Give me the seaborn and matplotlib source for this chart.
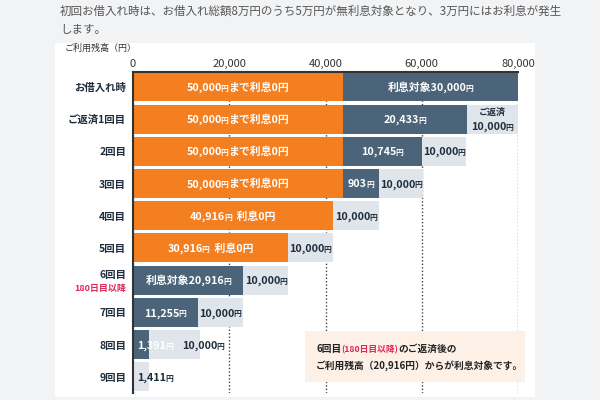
import re
import matplotlib
matplotlib.use("Agg")
import matplotlib.pyplot as plt
import seaborn as sns
import pandas as pd
from matplotlib.patches import Rectangle

# rows of the chart (top to bottom)
rows = ["お借入れ時", "ご返済1回目", "2回目", "3回目", "4回目",
        "5回目", "6回目", "7回目", "8回目", "9回目"]

# segment lengths as drawn on the axis (the picture is schematic, not to scale)
orange_len = [43600, 43600, 43600, 43600, 41500, 32200, 0, 0, 0, 0]
dark_len = [36400, 25800, 16400, 7500, 0, 0, 22900, 13500, 3300, 0]
light_len = [0, 10600, 9100, 9100, 9600, 9350, 9350, 9350, 10600, 3300]

# texts written on the segments
orange_labels = ["50,000円まで利息0円"] * 4 + ["40,916円 利息0円", "30,916円 利息0円", "", "", "", ""]
dark_labels = ["利息対象30,000円", "20,433円", "10,745円", "903円", "", "",
               "利息対象20,916円", "11,255円", "1,391円", ""]
light_labels = ["", "10,000円", "10,000円", "10,000円", "10,000円",
                "10,000円", "10,000円", "10,000円", "10,000円", "1,411円"]

x_ticks = [0, 20000, 40000, 60000, 80000]

ORANGE = "#f47f21"
DARK = "#4b6479"
LIGHT = "#dfe5ea"
NAVY = "#1f2d3d"
RED = "#e0285a"

sns.set_theme(style="white")
plt.rcParams["font.family"] = ["Noto Sans CJK JP", "DejaVu Sans"]

df = pd.DataFrame({"row": rows, "o": orange_len, "d": dark_len, "l": light_len})
df["o_end"] = df["o"]
df["d_end"] = df["o"] + df["d"]
df["l_end"] = df["d_end"] + df["l"]

fig = plt.figure(figsize=(6, 4), dpi=100, facecolor="#f2f3f5")
fig.patches.append(Rectangle((0.092, 0.0075), 0.8, 0.885, transform=fig.transFigure,
                             facecolor="white", edgecolor="none", zorder=-10))
ax = fig.add_axes([0.2217, 0.0175, 0.6416, 0.8025])
ax.set_facecolor("white")

for col, colr in [("l_end", LIGHT), ("d_end", DARK), ("o_end", ORANGE)]:
    sns.barplot(data=df, x=col, y="row", orient="h", color=colr, width=0.9,
                linewidth=0, saturation=1, ax=ax)

ax.set_xlim(0, 80000)
ax.set_ylim(9.5, -0.46)
ax.set_xlabel("")
ax.set_ylabel("")
ax.xaxis.tick_top()
ax.set_xticks(x_ticks)
ax.set_xticklabels([f"{v:,}" for v in x_ticks], fontsize=8, color="#333333")
ax.tick_params(axis="x", length=0, pad=2)
ax.tick_params(axis="y", length=0, pad=5)
ax.set_axisbelow(True)
ax.grid(axis="x", linestyle=(0, (1, 1.5)), color="#444444", linewidth=1)
for s in ["right", "bottom"]:
    ax.spines[s].set_visible(False)
for s in ["top", "left"]:
    ax.spines[s].set_color("#333333")
    ax.spines[s].set_linewidth(1.5)

ylabels = list(rows)
ylabels[6] = ""
ax.set_yticks(range(len(rows)))
ax.set_yticklabels(ylabels, fontsize=7.5, fontweight="bold", color=NAVY)
ax.annotate("6回目", xy=(0, 6), xycoords=("axes fraction", "data"), xytext=(-5, 4),
            textcoords="offset points", ha="right", va="center", fontsize=7.5,
            fontweight="bold", color=NAVY)
ax.annotate("180日目以降", xy=(0, 6), xycoords=("axes fraction", "data"), xytext=(-5, -6),
            textcoords="offset points", ha="right", va="center", fontsize=6.5,
            fontweight="bold", color=RED)

# labels made of several pieces (small 円 after amounts), laid out after a draw
rich_items = []


def rich(xy, parts, ha="center", dx=0, dy=0, coords="data", zorder=3):
    anns = []
    for txt, size, colr in parts:
        a = ax.annotate(txt, xy=xy, xycoords=coords, xytext=(0, 0),
                        textcoords="offset points", ha="left", va="baseline",
                        fontsize=size, fontweight="bold", color=colr,
                        annotation_clip=False, zorder=zorder)
        anns.append(a)
    base = max(p[1] for p in parts)
    rich_items.append((anns, ha, dx, dy - 0.36 * base))


def amount_parts(text, size, colr):
    out = []
    for k, piece in enumerate(re.split(r"(?<=\d\d)(円)", text)):
        if not piece:
            continue
        out.append((piece, size * 0.72 if k % 2 else size, colr))
    return out


for i in range(len(rows)):
    o, d, l = orange_len[i], dark_len[i], light_len[i]
    if orange_labels[i]:
        rich((o / 2, i), amount_parts(orange_labels[i], 7.8, "white"))
    if dark_labels[i]:
        if d < 5000:
            rich((o, i), amount_parts(dark_labels[i], 7.8, "white"), ha="left", dx=3)
        else:
            rich((o + d / 2, i), amount_parts(dark_labels[i], 7.8, "white"))
    if light_labels[i]:
        start = o + d
        if l < 5000:
            rich((start, i), amount_parts(light_labels[i], 7.8, NAVY), ha="left", dx=3)
        elif i == 1:
            ax.annotate("ご返済", xy=(start + l / 2, i), xytext=(0, 5),
                        textcoords="offset points", ha="center", va="center",
                        fontsize=6.5, fontweight="bold", color=NAVY)
            rich((start + l / 2, i), amount_parts(light_labels[i], 7.8, NAVY), dy=-5)
        else:
            shift = 21 if d and d < 5000 else 0
            rich((start + l / 2, i), amount_parts(light_labels[i], 7.8, NAVY), dx=shift)

# header text
fig.text(0.1, 0.972, "初回お借入れ時は、お借入れ総額8万円のうち5万円が無利息対象となり、3万円にはお利息が発生",
         fontsize=8.3, color="#555555", va="center")
fig.text(0.1, 0.925, "します。", fontsize=8.3, color="#555555", va="center")
fig.text(0.108, 0.88, "ご利用残高（円）", fontsize=6.5, color="#333333", va="center")

# note box
ax.add_patch(Rectangle((0.508, 0.045), 0.367, 0.128, transform=fig.transFigure,
                       facecolor="#fdf1e7", edgecolor="none", zorder=5, clip_on=False))
rich((0.527, 0.128), [("6回目", 7, "#222222"), ("(180日目以降)", 6.3, RED),
                      ("のご返済後の", 7, "#222222")],
     ha="left", coords="figure fraction", zorder=6)
rich((0.527, 0.087), [("ご利用残高（20,916円）からが利息対象です。", 7, "#222222")],
     ha="left", coords="figure fraction", zorder=6)

# place the pieces side by side (tighten before a small 円, open up before a space)
fig.canvas.draw()
renderer = fig.canvas.get_renderer()
for anns, ha, dx, dy in rich_items:
    widths = []
    for k, a in enumerate(anns):
        w = a.get_window_extent(renderer).width * 72 / fig.dpi
        if k + 1 < len(anns):
            nxt = anns[k + 1].get_text()
            if nxt == "円":
                w -= 0.8
            elif nxt.startswith(" "):
                w += 2.0
        widths.append(w)
    pos = dx - sum(widths) / 2 if ha == "center" else dx
    for a, w in zip(anns, widths):
        a.xyann = (pos, dy)
        pos += w

fig.savefig("out.png", dpi=100, facecolor=fig.get_facecolor())
